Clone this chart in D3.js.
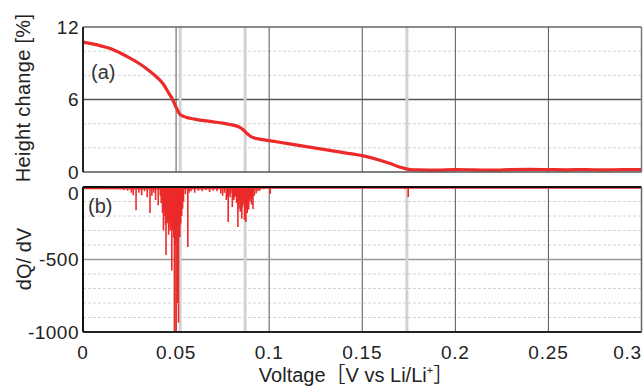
<!DOCTYPE html>
<html>
<head>
<meta charset="utf-8">
<script src="https://cdn.jsdelivr.net/npm/d3@7"></script>
<style>
  body { margin: 0; background: #fff; }
  svg { display: block; font-family: "Liberation Sans", Arial, "Noto Sans CJK JP", sans-serif; }
</style>
</head>
<body>
<svg id="chart" width="644" height="387"></svg>
<script>
// ---- Data ----
const xTicks = [0, 0.05, 0.1, 0.15, 0.2, 0.25, 0.3];
const xTickLabels = ["0", "0.05", "0.1", "0.15", "0.2", "0.25", "0.3"];
const topTicks = [0, 6, 12];
const topMinor = [2, 4, 8, 10];
const botTicks = [0, -500, -1000];
const botMinor = [-100, -200, -300, -400, -600, -700, -800, -900];
const markerVoltages = [0.0522, 0.0871, 0.174];

// (a) height change [%] vs voltage
const heightV = [0, 0.005, 0.01, 0.015, 0.02, 0.025, 0.03, 0.035, 0.04, 0.043, 0.046, 0.048, 0.05, 0.052, 0.054, 0.056, 0.06, 0.065, 0.07, 0.075, 0.08, 0.084, 0.086, 0.088, 0.09, 0.092, 0.095, 0.1, 0.11, 0.12, 0.13, 0.14, 0.15, 0.16, 0.165, 0.17, 0.175, 0.18, 0.19, 0.2, 0.21, 0.22, 0.23, 0.24, 0.25, 0.26, 0.27, 0.28, 0.29, 0.3];
const heightPct = [10.75, 10.6, 10.42, 10.2, 9.85, 9.45, 9.0, 8.45, 7.8, 7.3, 6.55, 6.05, 5.35, 4.78, 4.6, 4.5, 4.38, 4.25, 4.15, 4.05, 3.9, 3.72, 3.5, 3.2, 2.95, 2.82, 2.72, 2.6, 2.35, 2.1, 1.85, 1.6, 1.35, 0.95, 0.7, 0.42, 0.22, 0.17, 0.16, 0.2, 0.18, 0.15, 0.2, 0.22, 0.2, 0.18, 0.2, 0.17, 0.2, 0.2];

// (b) dQ/dV spikes
const dqV = [0.002, 0.004, 0.006, 0.008, 0.010, 0.012, 0.015, 0.018, 0.020, 0.022, 0.024, 0.026, 0.027, 0.0285, 0.030, 0.0315, 0.033, 0.0345, 0.036, 0.037, 0.038, 0.039, 0.0404, 0.0415, 0.042, 0.0427, 0.0432, 0.0437, 0.044, 0.0443, 0.0446, 0.045, 0.0455, 0.0458, 0.046, 0.0463, 0.0465, 0.0468, 0.047, 0.0474, 0.0477, 0.048, 0.0483, 0.0487, 0.0491, 0.0495, 0.0498, 0.05, 0.0503, 0.0505, 0.0507, 0.0509, 0.0511, 0.0513, 0.0515, 0.0517, 0.052, 0.0522, 0.0525, 0.0528, 0.053, 0.0535, 0.054, 0.055, 0.0563, 0.057, 0.058, 0.06, 0.062, 0.064, 0.066, 0.068, 0.07, 0.072, 0.074, 0.075, 0.076, 0.077, 0.0775, 0.078, 0.0785, 0.079, 0.0795, 0.0802, 0.081, 0.0815, 0.082, 0.0825, 0.0828, 0.0832, 0.0835, 0.0838, 0.0842, 0.0845, 0.0849, 0.0853, 0.0856, 0.086, 0.0864, 0.0868, 0.0872, 0.0875, 0.0878, 0.0882, 0.0886, 0.089, 0.0893, 0.0897, 0.09, 0.0905, 0.0909, 0.0913, 0.092, 0.093, 0.094, 0.095, 0.097, 0.0985, 0.1006, 0.102, 0.171, 0.173, 0.1747];
const dqVal = [-12, -10, -12, -8, -10, -8, -10, -12, -15, -20, -25, -40, -57, -160, -40, -57, -30, -70, -180, -60, -40, -90, -126, -60, -110, -180, -300, -150, -200, -260, -469, -220, -250, -190, -330, -240, -200, -300, -280, -220, -575, -260, -300, -350, -1000, -400, -300, -1000, -280, -300, -340, -800, -250, -935, -320, -300, -345, -260, -250, -180, -200, -150, -100, -50, -414, -40, -30, -40, -25, -30, -20, -35, -25, -30, -45, -60, -40, -90, -70, -241, -50, -70, -40, -138, -90, -70, -60, -110, -80, -276, -120, -150, -90, -171, -110, -219, -140, -120, -100, -227, -130, -241, -150, -180, -110, -155, -90, -100, -70, -120, -80, -152, -60, -45, -30, -25, -15, -10, -46, -8, -12, -15, -69];
const baseV = [0, 0.05, 0.1, 0.15, 0.2, 0.25, 0.3];
const baseVal = [-8, -10, -6, -5, -5, -5, -5];

// ---- Layout ----
const svg = d3.select("#chart");
const red = "#ec2a2a";
const x = d3.scaleLinear().domain([0, 0.3]).range([83, 641.5]);
const yTop = d3.scaleLinear().domain([0, 12]).range([172, 27]);
const yBot = d3.scaleLinear().domain([0, -1000]).range([187, 332]);

function panel(y, dom, minor, mainTicks, mainColor) {
  const g = svg.append("g");
  g.selectAll(".mn").data(minor).join("line")
    .attr("x1", x(0)).attr("x2", x(0.3))
    .attr("y1", d => y(d)).attr("y2", d => y(d))
    .attr("stroke", "#d4d4d4").attr("stroke-width", 1).attr("stroke-dasharray", "3,2");
  g.selectAll(".vg").data(xTicks.slice(1, -1)).join("line")
    .attr("x1", d => x(d)).attr("x2", d => x(d))
    .attr("y1", y(dom[0])).attr("y2", y(dom[1]))
    .attr("stroke", "#555").attr("stroke-width", 1);
  g.selectAll(".mh").data(mainTicks).join("line")
    .attr("x1", x(0)).attr("x2", x(0.3))
    .attr("y1", d => y(d)).attr("y2", d => y(d))
    .attr("stroke", mainColor).attr("stroke-width", 1.5);
  g.selectAll(".mk").data(markerVoltages).join("line")
    .attr("x1", d => x(d)).attr("x2", d => x(d))
    .attr("y1", y(dom[0])).attr("y2", y(dom[1]))
    .attr("stroke", "#d2d2d2").attr("stroke-width", 3);
  return g;
}

// ---- Top panel (a) ----
panel(yTop, [0, 12], topMinor, [6], "#555");
svg.append("clipPath").attr("id", "clipTop").append("rect")
  .attr("x", x(0)).attr("y", yTop(12)).attr("width", x(0.3) - x(0)).attr("height", yTop(0) - yTop(12) + 2);
const lineTop = d3.line().x((d, i) => x(heightV[i])).y(d => yTop(d)).curve(d3.curveMonotoneX);
svg.append("path").datum(heightPct).attr("d", lineTop)
  .attr("fill", "none").attr("stroke", red).attr("stroke-width", 3.2).attr("clip-path", "url(#clipTop)");
svg.append("line").attr("x1", x(0)).attr("x2", x(0.3)).attr("y1", yTop(12)).attr("y2", yTop(12)).attr("stroke", "#666").attr("stroke-width", 1.5);
svg.append("line").attr("x1", x(0)).attr("x2", x(0.3)).attr("y1", yTop(0)).attr("y2", yTop(0)).attr("stroke", "#555").attr("stroke-width", 1.5);
svg.append("line").attr("x1", x(0.3)).attr("x2", x(0.3)).attr("y1", yTop(12)).attr("y2", yTop(0)).attr("stroke", "#777").attr("stroke-width", 1.5);
svg.append("line").attr("x1", x(0)).attr("x2", x(0)).attr("y1", yTop(12)).attr("y2", yTop(0)).attr("stroke", "#222").attr("stroke-width", 2);

// ---- Bottom panel (b) ----
panel(yBot, [0, -1000], botMinor, [-500], "#999");
svg.append("clipPath").attr("id", "clipBot").append("rect")
  .attr("x", x(0)).attr("y", yBot(0)).attr("width", x(0.3) - x(0)).attr("height", yBot(-1000) - yBot(0));
const gB = svg.append("g").attr("clip-path", "url(#clipBot)");
const lineBase = d3.line().x((d, i) => x(baseV[i])).y(d => yBot(d));
gB.append("path").datum(baseVal).attr("d", lineBase).attr("fill", "none").attr("stroke", red).attr("stroke-width", 2);
gB.selectAll(".sp").data(dqVal).join("line")
  .attr("x1", (d, i) => x(dqV[i])).attr("x2", (d, i) => x(dqV[i]))
  .attr("y1", yBot(0)).attr("y2", d => yBot(d))
  .attr("stroke", red).attr("stroke-width", 1.6);
svg.append("line").attr("x1", x(0)).attr("x2", x(0.3)).attr("y1", yBot(0)).attr("y2", yBot(0)).attr("stroke", "#111").attr("stroke-width", 2);
svg.append("line").attr("x1", x(0)).attr("x2", x(0.3)).attr("y1", yBot(-1000)).attr("y2", yBot(-1000)).attr("stroke", "#222").attr("stroke-width", 2);
svg.append("line").attr("x1", x(0.3)).attr("x2", x(0.3)).attr("y1", yBot(0)).attr("y2", yBot(-1000)).attr("stroke", "#666").attr("stroke-width", 1.5);
svg.append("line").attr("x1", x(0)).attr("x2", x(0)).attr("y1", yBot(0)).attr("y2", yBot(-1000)).attr("stroke", "#111").attr("stroke-width", 2);

// ---- Tick labels ----
const tickFont = 19;
svg.selectAll(".ty").data(topTicks).join("text")
  .attr("x", 79).attr("y", d => yTop(d)).attr("dy", "0.36em")
  .attr("text-anchor", "end").attr("font-size", tickFont).attr("fill", "#222")
  .attr("letter-spacing", 0.5).text(d => d);
svg.selectAll(".by").data(botTicks).join("text")
  .attr("x", 79).attr("y", d => yBot(d) + (d === 0 ? 6 : 0)).attr("dy", "0.36em")
  .attr("text-anchor", "end").attr("font-size", tickFont).attr("fill", "#222")
  .attr("letter-spacing", 0.5).text(d => d);
svg.selectAll(".tx").data(xTicks).join("text")
  .attr("x", (d, i) => i === xTicks.length - 1 ? 642 : x(d)).attr("y", 359)
  .attr("text-anchor", (d, i) => i === xTicks.length - 1 ? "end" : "middle")
  .attr("font-size", tickFont).attr("fill", "#222")
  .attr("letter-spacing", 0.8).text((d, i) => xTickLabels[i]);

// ---- Axis titles ----
svg.append("text").attr("transform", "translate(30,98) rotate(-90)")
  .attr("text-anchor", "middle").attr("font-size", 20).attr("fill", "#222").attr("letter-spacing", 0.3)
  .text("Height change [%]");
svg.append("text").attr("transform", "translate(31,259) rotate(-90)")
  .attr("text-anchor", "middle").attr("font-size", 20).attr("fill", "#222")
  .text("dQ/ dV");
const xt = svg.append("text").attr("x", 356).attr("y", 382)
  .attr("text-anchor", "middle").attr("font-size", 20).attr("fill", "#222");
xt.append("tspan").text("Voltage［V vs Li/Li");
xt.append("tspan").attr("dy", -8).attr("font-size", 11).text("+");
xt.append("tspan").attr("dy", 8).text("］");

// ---- Panel labels ----
svg.append("text").attr("x", 91).attr("y", 79).attr("font-size", 20).attr("fill", "#333").text("(a)");
svg.append("text").attr("x", 88).attr("y", 213).attr("font-size", 20).attr("fill", "#333").text("(b)");
</script>
</body>
</html>
